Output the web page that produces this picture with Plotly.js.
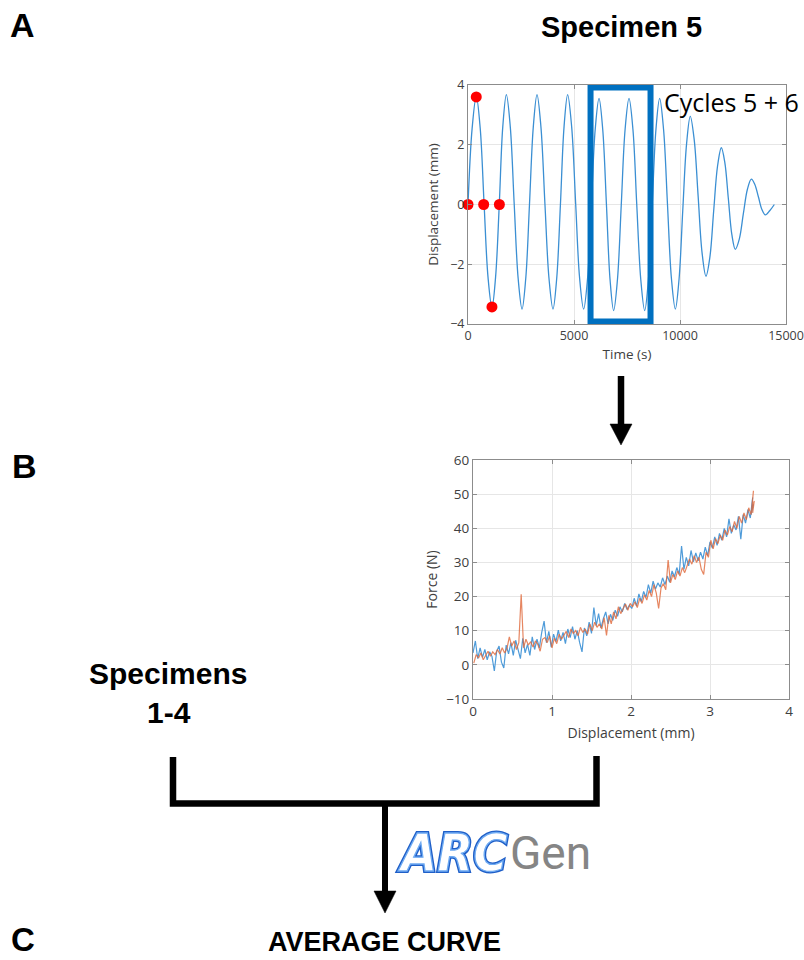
<!DOCTYPE html>
<html>
<head>
<meta charset="utf-8">
<script src="https://cdn.plot.ly/plotly-3.0.1.min.js"></script>
<style>html,body{margin:0;padding:0;background:#fff;}#chart{width:804px;height:960px;}</style>
</head>
<body>
<div id="chart"></div>
<script>
// ---- Panel A: displacement history of specimen 5 ----
const timeS = [0,195,390,575,760,945,1130,1300,1475,1640,1810,1995,2180,2365,2550,2725,2900,3080,3255,3440,3630,3820,4010,4185,4360,4530,4700,4890,5080,5265,5455,5640,5820,6000,6180,6355,6530,6700,6870,7050,7230,7410,7595,7780,7960,8150,8335,8510,8690,8865,9040,9225,9410,9595,9780,9955,10130,10310,10485,10670,10855,11040,11225,11410,11590,11770,11950,12115,12280,12445,12610,12800,12990,13180,13365,13530,13700,13865,14025,14240,14450];
const dispMm = [0,2.55,3.62,2.56,0,-2.44,-3.45,-2.44,0,2.6,3.68,2.6,0,-2.47,-3.5,-2.47,0,2.6,3.68,2.6,0,-2.47,-3.5,-2.47,0,2.6,3.68,2.6,0,-2.47,-3.5,-2.47,0,2.51,3.55,2.51,0,-2.51,-3.55,-2.51,0,2.51,3.55,2.51,0,-2.51,-3.55,-2.51,0,2.51,3.55,2.51,0,-2.47,-3.5,-2.5,-0.2,2.03,2.95,2.17,0.28,-1.61,-2.4,-1.76,-0.2,1.28,1.9,1.4,0.2,-1.0,-1.5,-1.15,-0.3,0.51,0.85,0.67,0.25,-0.17,-0.35,-0.2,0];
const dotTime = [0,390,740,1130,1480];
const dotDisp = [0,3.6,0,-3.43,0];

// ---- Panel B: force vs displacement, cycles 5 + 6 ----
const blueX = [0,0.03,0.06,0.09,0.12,0.15,0.18,0.21,0.24,0.27,
0.3,0.33,0.36,0.39,0.42,0.45,0.48,0.51,0.54,0.57,
0.6,0.63,0.66,0.69,0.72,0.75,0.78,0.81,0.84,0.87,
0.9,0.93,0.96,0.99,1.02,1.05,1.08,1.11,1.14,1.17,
1.2,1.23,1.26,1.29,1.32,1.35,1.38,1.41,1.44,1.47,
1.5,1.53,1.56,1.59,1.62,1.65,1.68,1.71,1.74,1.77,
1.8,1.83,1.86,1.89,1.92,1.95,1.98,2.01,2.04,2.07,
2.1,2.13,2.16,2.19,2.22,2.25,2.28,2.31,2.34,2.37,
2.4,2.43,2.46,2.49,2.52,2.55,2.58,2.61,2.64,2.67,
2.7,2.73,2.76,2.79,2.82,2.85,2.88,2.91,2.94,2.97,
3.0,3.03,3.06,3.09,3.12,3.15,3.18,3.21,3.24,3.27,
3.3,3.33,3.36,3.39,3.42,3.45,3.48,3.51,3.54,3.52,3.55,3.53];
const blueF = [3.5,7.0,1.8,5.0,2.2,4.5,1.5,3.8,2.5,-1.8,
4.0,5.5,0.8,-0.9,5.8,3.2,6.5,2.8,7.2,4.0,
1.8,7.8,3.5,6.0,2.8,8.2,4.5,7.5,5.0,9.5,
12.8,6.5,9.8,5.2,9.0,6.8,10.2,7.0,9.5,6.2,
10.5,8.0,11.2,7.5,10.0,6.5,3.8,10.8,8.5,12.5,
9.2,16.8,11.5,15.0,10.8,13.5,15.5,12.0,14.8,13.0,
16.0,14.2,17.0,15.5,18.0,16.2,17.5,16.5,19.5,17.2,
20.8,18.5,21.5,19.8,23.5,21.0,24.5,22.2,24.0,22.8,
25.5,23.5,26.0,24.2,27.5,25.8,28.5,26.5,34.8,28.0,
31.5,29.0,33.5,30.2,32.8,30.5,33.0,31.0,34.5,32.0,
36.0,34.2,37.5,35.0,38.5,36.5,40.0,37.5,42.8,38.5,
41.0,39.5,43.5,36.8,44.0,41.5,45.5,43.0,49.0,44.0,47.0,45.5];
const orangeX = [0.01,0.04,0.07,0.1,0.13,0.16,0.19,0.22,0.25,0.28,
0.31,0.34,0.37,0.4,0.43,0.46,0.49,0.52,0.55,0.58,
0.61,0.64,0.67,0.7,0.73,0.76,0.79,0.82,0.85,0.88,
0.91,0.94,0.97,1.0,1.03,1.06,1.09,1.12,1.15,1.18,
1.21,1.24,1.27,1.3,1.33,1.36,1.39,1.42,1.45,1.48,
1.51,1.54,1.57,1.6,1.63,1.66,1.69,1.72,1.75,1.78,
1.81,1.84,1.87,1.9,1.93,1.96,1.99,2.02,2.05,2.08,
2.11,2.14,2.17,2.2,2.23,2.26,2.29,2.32,2.35,2.38,
2.41,2.44,2.47,2.5,2.53,2.56,2.59,2.62,2.65,2.68,
2.71,2.74,2.77,2.8,2.83,2.86,2.89,2.92,2.95,2.98,
3.01,3.04,3.07,3.1,3.13,3.16,3.19,3.22,3.25,3.28,
3.31,3.34,3.37,3.4,3.43,3.46,3.49,3.52,3.55,3.53,3.56,3.54,3.55];
const orangeF = [0.5,3.0,2.0,3.5,1.5,2.8,4.0,2.5,3.8,3.0,
4.5,3.2,5.0,3.5,4.8,8.2,5.5,7.0,4.5,6.5,
20.7,5.0,7.5,5.8,6.8,5.2,7.0,6.0,4.0,7.5,
8.0,6.5,8.5,5.0,7.8,6.2,9.0,7.5,8.5,9.8,
8.0,10.5,9.2,10.0,8.5,11.0,9.5,10.5,9.0,12.0,
10.0,12.5,11.0,12.0,10.5,13.8,8.6,14.5,12.0,15.5,
13.5,17.0,15.0,16.5,17.8,16.0,18.0,17.0,18.5,16.8,
19.5,18.0,20.5,19.0,21.8,20.0,23.5,21.0,16.5,22.5,
23.8,22.0,30.7,24.0,26.5,25.0,27.5,26.0,28.5,27.0,
29.0,31.0,29.5,32.0,30.0,31.5,28.0,26.5,33.0,31.5,
36.5,34.0,37.0,35.5,38.0,36.5,39.5,38.0,40.5,39.0,
42.0,40.0,43.5,41.5,44.5,42.5,46.0,44.0,51.0,46.0,48.0,44.5,47.5];

// tick values
const ticksA_x = [0,5000,10000,15000];
const ticksA_y = [-4,-2,0,2,4];
const ticksB_x = [0,1,2,3,4];
const ticksB_y = [-10,0,10,20,30,40,50,60];

// ---- layout helpers (pixel -> paper) ----
const W = 804, H = 960;
const fx = v => v / W;
const fy = v => 1 - v / H;
const path = pts => 'M' + pts.map(p => fx(p[0]) + ',' + fy(p[1])).join(' L') + ' Z';
const line = pts => 'M' + pts.map(p => fx(p[0]) + ',' + fy(p[1])).join(' L');

const axFont = 'Open Sans, Arial, sans-serif';
const boldFont = 'Liberation Sans, Arial, sans-serif';
const arcFont = 'Liberation Sans Narrow, DejaVu Sans Condensed, Arial, sans-serif';
const axisBase = {
  showline: true, mirror: 'ticks', linecolor: '#8c8c8c', linewidth: 1,
  ticks: 'inside', ticklen: 4, tickcolor: '#8c8c8c',
  showgrid: true, gridcolor: '#e6e6e6', zeroline: false,
  exponentformat: 'none', separatethousands: false, tickformat: 'd',
  ticklabeloverflow: 'allow', fixedrange: true
};

const traces = [
  {x: timeS, y: dispMm, xaxis: 'x', yaxis: 'y', mode: 'lines', type: 'scatter',
   line: {color: '#3b8fd3', width: 1.3, shape: 'spline', smoothing: 1}, hoverinfo: 'skip'},
  {x: dotTime, y: dotDisp, xaxis: 'x', yaxis: 'y', mode: 'markers', type: 'scatter',
   marker: {color: '#ff0000', size: 11}, cliponaxis: false, hoverinfo: 'skip'},
  {x: blueX, y: blueF, xaxis: 'x2', yaxis: 'y2', mode: 'lines', type: 'scatter',
   line: {color: '#2f8ad2', width: 1.2}, opacity: 0.85, hoverinfo: 'skip'},
  {x: orangeX, y: orangeF, xaxis: 'x2', yaxis: 'y2', mode: 'lines', type: 'scatter',
   line: {color: '#e0683a', width: 1.2}, opacity: 0.8, hoverinfo: 'skip'}
];

const arcText = (fill, stroke, sw) =>
  '<span style="fill:' + fill + ';stroke:' + stroke + ';stroke-width:' + sw + 'px"><b><i>ARC</i></b></span>';

const layout = {
  width: W, height: H, showlegend: false,
  margin: {l: 0, r: 0, t: 0, b: 0},
  paper_bgcolor: '#ffffff', plot_bgcolor: '#ffffff',
  xaxis: Object.assign({}, axisBase, {
    domain: [fx(468), fx(786)], range: [0, 15000], anchor: 'y',
    tickvals: ticksA_x, tickfont: {family: axFont, size: 12.5, color: '#404040'},
    title: {text: 'Time (s)', font: {family: axFont, size: 13.5, color: '#404040'}, standoff: 6}
  }),
  yaxis: Object.assign({}, axisBase, {
    domain: [fy(324), fy(85)], range: [-4, 4], anchor: 'x',
    tickvals: ticksA_y, tickfont: {family: axFont, size: 12.5, color: '#404040'},
    title: {text: 'Displacement (mm)', font: {family: axFont, size: 13.5, color: '#404040'}, standoff: 8}
  }),
  xaxis2: Object.assign({}, axisBase, {
    domain: [fx(473), fx(789)], range: [0, 4], anchor: 'y2',
    tickvals: ticksB_x, tickfont: {family: axFont, size: 13.5, color: '#404040'},
    title: {text: 'Displacement (mm)', font: {family: axFont, size: 14, color: '#404040'}, standoff: 8}
  }),
  yaxis2: Object.assign({}, axisBase, {
    domain: [fy(699), fy(460)], range: [-10, 60], anchor: 'x2',
    tickvals: ticksB_y, tickfont: {family: axFont, size: 13.5, color: '#404040'},
    title: {text: 'Force (N)', font: {family: axFont, size: 14, color: '#404040'}, standoff: 5}
  }),
  shapes: [
    // highlight box for cycles 5 + 6
    {type: 'rect', xref: 'x', yref: 'y', x0: 5780, x1: 8610, y0: -3.92, y1: 3.92,
     line: {color: '#0070c0', width: 6}, fillcolor: 'rgba(0,0,0,0)'},
    // arrow from A to B
    {type: 'path', xref: 'paper', yref: 'paper', path: line([[621, 376], [621, 427]]),
     line: {color: '#000', width: 6.5}},
    {type: 'path', xref: 'paper', yref: 'paper', path: path([[610, 424], [632, 424], [621, 445]]),
     fillcolor: '#000', line: {color: '#000', width: 0.5}},
    // bracket joining specimens
    {type: 'path', xref: 'paper', yref: 'paper',
     path: line([[173, 757], [173, 803.5], [596.5, 803.5], [596.5, 756]]),
     line: {color: '#000', width: 6.5}},
    // arrow down to average curve
    {type: 'path', xref: 'paper', yref: 'paper', path: line([[385, 803], [385, 894]]),
     line: {color: '#000', width: 6}},
    {type: 'path', xref: 'paper', yref: 'paper', path: path([[374, 891], [396, 891], [385, 913]]),
     fillcolor: '#000', line: {color: '#000', width: 0.5}}
  ],
  annotations: [
    {xref: 'paper', yref: 'paper', x: fx(8), y: fy(25), xanchor: 'left', yanchor: 'middle', showarrow: false,
     text: '<b>A</b>', font: {family: boldFont, size: 34, color: '#000'}},
    {xref: 'paper', yref: 'paper', x: fx(10), y: fy(466), xanchor: 'left', yanchor: 'middle', showarrow: false,
     text: '<b>B</b>', font: {family: boldFont, size: 34, color: '#000'}},
    {xref: 'paper', yref: 'paper', x: fx(9), y: fy(939), xanchor: 'left', yanchor: 'middle', showarrow: false,
     text: '<b>C</b>', font: {family: boldFont, size: 33, color: '#000'}},
    {xref: 'paper', yref: 'paper', x: fx(621), y: fy(27), xanchor: 'center', yanchor: 'middle', showarrow: false,
     text: '<b>Specimen 5</b>', font: {family: boldFont, size: 29, color: '#000'}},
    {xref: 'paper', yref: 'paper', x: fx(168), y: fy(673), xanchor: 'center', yanchor: 'middle', showarrow: false,
     text: '<b>Specimens</b>', font: {family: boldFont, size: 30, color: '#000'}},
    {xref: 'paper', yref: 'paper', x: fx(169), y: fy(712), xanchor: 'center', yanchor: 'middle', showarrow: false,
     text: '<b>1-4</b>', font: {family: boldFont, size: 30, color: '#000'}},
    {xref: 'paper', yref: 'paper', x: fx(384), y: fy(942), xanchor: 'center', yanchor: 'middle', showarrow: false,
     text: '<b>AVERAGE CURVE</b>', font: {family: boldFont, size: 27, color: '#000'}},
    {xref: 'paper', yref: 'paper', x: fx(662), y: fy(102), xanchor: 'left', yanchor: 'middle', showarrow: false,
     text: 'Cycles 5 + 6', font: {family: axFont, size: 25, color: '#000'}},
    // ARCGen logo: double-outline blue "ARC" + grey "Gen"
    {xref: 'paper', yref: 'paper', x: fx(510), y: fy(853), xanchor: 'right', yanchor: 'middle', showarrow: false,
     text: arcText('#ffffff', '#1f5fc8', 4), font: {family: arcFont, size: 52, color: '#1f5fc8'}},
    {xref: 'paper', yref: 'paper', x: fx(510), y: fy(853), xanchor: 'right', yanchor: 'middle', showarrow: false,
     text: arcText('#ffffff', '#6fabf2', 1.3), font: {family: arcFont, size: 52, color: '#6fabf2'}},
    {xref: 'paper', yref: 'paper', x: fx(508), y: fy(853), xanchor: 'left', yanchor: 'middle', showarrow: false,
     text: 'Gen', font: {family: 'Roboto, Arial, sans-serif', size: 46, color: '#858585'}}
  ]
};

Plotly.newPlot('chart', traces, layout, {displayModeBar: false, staticPlot: true});
</script>
</body>
</html>
